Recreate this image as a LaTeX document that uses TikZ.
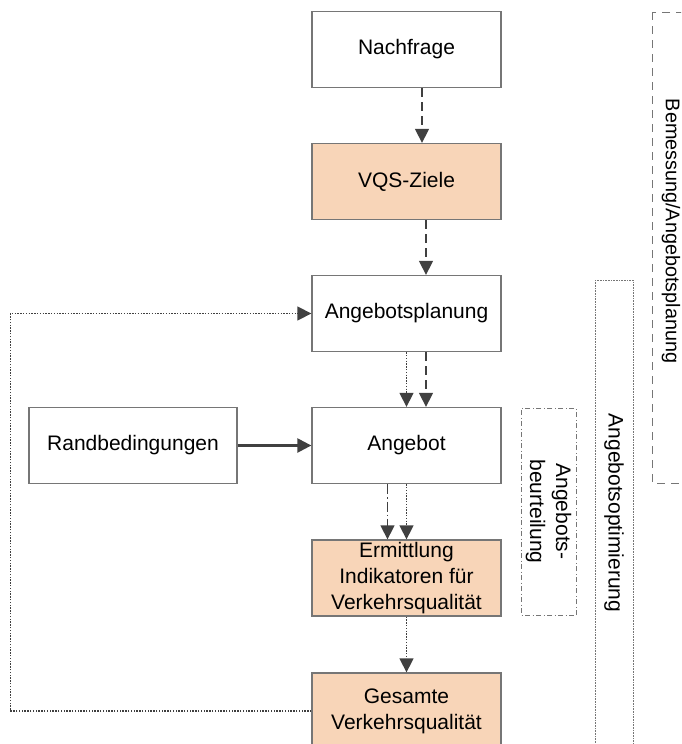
\documentclass[tikz,border=0pt]{standalone}
\usepackage{fontspec}
\setmainfont{Liberation Sans}
\usetikzlibrary{arrows.meta}

\definecolor{boxline}{RGB}{118,118,118}
\definecolor{arrowgray}{RGB}{64,64,64}
\definecolor{peach}{RGB}{248,213,184}

\begin{document}
\begin{tikzpicture}[x=1pt,y=-1pt,
  font=\fontsize{21}{26}\selectfont,
  box/.style={draw=boxline, line width=1.3pt, align=center, inner sep=0pt,
    minimum width=189pt, minimum height=76pt},
  resultbox/.style={box, fill=peach},
  flow/.style={arrowgray, line width=1.4pt, -{Triangle[length=14pt,width=14pt]}},
  dashflow/.style={flow, dash pattern=on 9pt off 5pt},
  dotflow/.style={flow, dash pattern=on 1.4pt off 1.4pt},
  dashdotflow/.style={flow, dash pattern=on 10pt off 3pt on 1.4pt off 3pt},
  frame/.style={draw=boxline, line width=0.9pt, inner sep=0pt, align=center}
]
\useasboundingbox (0,0) rectangle (681,744);
\clip (0,0) rectangle (681,744);

% main column
\node[box] (nachfrage) at (406.5,49.5) {Nachfrage};
\node[resultbox] (ziele) at (406.5,181.5) {VQS-Ziele};
\node[box] (planung) at (406.5,313.5) {Angebotsplanung};
\node[box] (angebot) at (406.5,445.5) {Angebot};
\node[resultbox] (ermittlung) at (406.5,578) {Ermittlung\\Indikatoren für\\Verkehrsqualität};
\node[resultbox] (gesamt) at (406.5,711) {Gesamte\\Verkehrsqualität};

\node[box, minimum width=208pt] (rand) at (133,445.5) {Randbedingungen};

% arrows between the steps
\draw[dashflow] ([xshift=15.5pt]nachfrage.south) -- ([xshift=15.5pt]ziele.north);
\draw[dashflow] ([xshift=19.5pt]ziele.south) -- ([xshift=19.5pt]planung.north);
\draw[dotflow] (planung.south) -- (angebot.north);
\draw[dashflow] ([xshift=19.5pt]planung.south) -- ([xshift=19.5pt]angebot.north);
\draw[dashdotflow] ([xshift=-19pt]angebot.south) -- ([xshift=-19pt]ermittlung.north);
\draw[dotflow] (angebot.south) -- (ermittlung.north);
\draw[dotflow] (ermittlung.south) -- (gesamt.north);
\draw[flow, line width=2.4pt] (rand.east) -- (angebot.west);

% feedback loop
\draw[dotflow] (gesamt.west) -- ++(-301,0) |- (planung.west);

% phases on the right
\draw[frame, dash pattern=on 8pt off 6pt] (652,12) rectangle (694,483);
\node[rotate=-90, font=\fontsize{19.8}{24}\selectfont] (bemessung) at (671,231)
  {Bemessung/Angebotsplanung};

\draw[frame, line width=1pt, dash pattern=on 0.8pt off 0.8pt] (595,280) rectangle (633,760);
\node[rotate=-90] (optimierung) at (614,513) {Angebotsoptimierung};

\node[frame, rotate=-90, dash pattern=on 5pt off 2.5pt on 1pt off 2.5pt,
  minimum width=207pt, minimum height=55pt] (beurteilung) at (548.5,511.5)
  {Angebots-\\beurteilung};
\end{tikzpicture}
\end{document}
